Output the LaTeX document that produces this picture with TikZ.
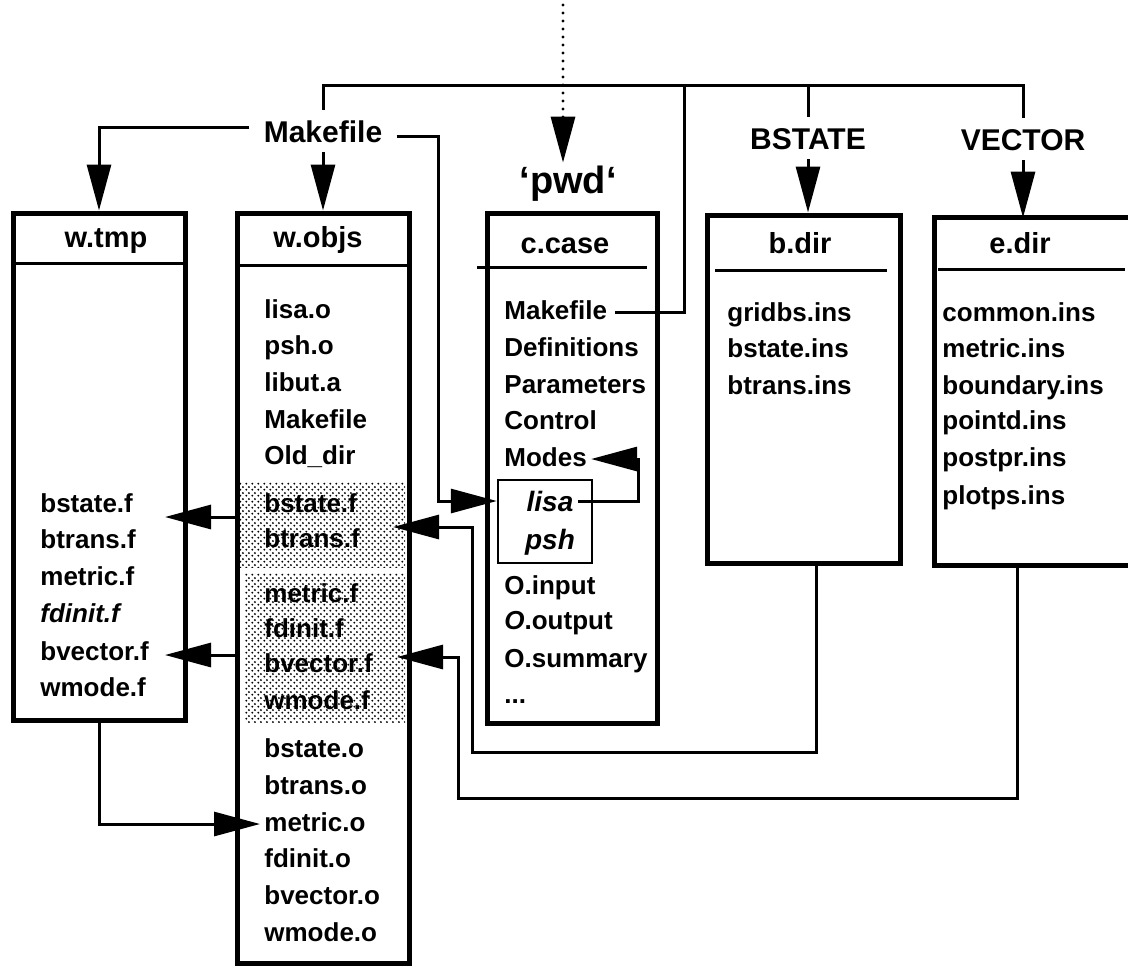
\documentclass[tikz,border=0pt]{standalone}
\usepackage{fontspec}
\setmainfont{Liberation Sans}
\usetikzlibrary{arrows.meta,patterns}
\pgfdeclarepatternformonly{stipple}{\pgfqpoint{-0.7pt}{-0.7pt}}{\pgfqpoint{2.1pt}{2.1pt}}{\pgfqpoint{2.8pt}{2.8pt}}{%
  \pgfpathcircle{\pgfqpoint{0pt}{0pt}}{0.55pt}%
  \pgfpathcircle{\pgfqpoint{1.4pt}{1.4pt}}{0.55pt}%
  \pgfusepath{fill}}
\begin{document}
\begin{tikzpicture}[x=0.5pt,y=-0.5pt,
  conn/.style={line width=1.5pt},
  arr/.style={conn,-{Triangle[length=23pt,width=12pt]}},
  boxline/.style={line width=2.5pt},
  boxst/.style={draw,line width=2.5pt,inner sep=0pt},
  sepline/.style={line width=1.5pt},
  item/.style={anchor=base west,font=\fontsize{13}{15}\selectfont\bfseries,text height=9.5pt,text depth=2.5pt,inner ysep=0pt,inner xsep=2pt},
  hdr/.style={anchor=base,font=\fontsize{14.5}{17}\selectfont\bfseries,inner sep=0pt},
  lbl/.style={anchor=base,font=\fontsize{15}{18}\selectfont\bfseries,text height=11pt,text depth=0pt,inner xsep=7pt,inner ysep=5pt},
  lp/.style={anchor=base,font=\fontsize{14}{16}\selectfont\bfseries\itshape,text height=10pt,text depth=0pt,inner xsep=2pt,inner ysep=0pt}
]
\useasboundingbox (0,0) rectangle (1128,965);

% boxes
\node[boxst,minimum width=86pt,minimum height=253.5pt] (wtmp) at (99,466.5) {};
\node[boxst,minimum width=86pt,minimum height=375pt] (wobjs) at (323,588) {};
\node[boxst,minimum width=85pt,minimum height=255pt] (ccase) at (572,468) {};
\node[boxst,minimum width=96.5pt,minimum height=174pt] (bdir) at (803.5,389) {};
\node[inner sep=0pt,minimum width=96.5pt,minimum height=173.5pt] (edir) at (1031.5,391.5) {};
\draw[boxline] (edir.north east) -- (edir.north west) -- (edir.south west) -- (edir.south east);

% separators
\draw[sepline] (13,263) -- (185,263);
\draw[sepline] (237,265) -- (409,265);
\draw[sepline] (477,267) -- (647,267);
\draw[sepline] (715,270) -- (887,270);
\draw[sepline] (938,269) -- (1125,269);

% stippled regions
\fill[pattern=stipple,pattern color=black] (240,482) rectangle (405,567);
\fill[pattern=stipple,pattern color=black] (245,573) rectangle (405,722);

% lisa/psh box
\node[draw,line width=1.2pt,inner sep=0pt,minimum width=47pt,minimum height=41.5pt] (lisabox) at (545,521.5) {};

% headers
\node[hdr] (hwtmp) at (106,247) {w.tmp};
\node[hdr] (hwobjs) at (318,247) {w.objs};
\node[hdr] (hccase) at (565,253) {c.case};
\node[hdr] (hbdir) at (800,253) {b.dir};
\node[hdr] (hedir) at (1020,253) {e.dir};

% top labels
\node[lbl] (mk) at (323,142) {Makefile};
\node[lbl] (bst) at (808,149) {BSTATE};
\node[lbl] (vec) at (1023,150) {VECTOR};
\node[anchor=base,font=\fontsize{19}{22}\selectfont\bfseries,text height=14pt,inner sep=1pt] (pwd) at (568,193) {‘pwd‘};

% w.tmp items
\node[item] (tbstatef) at (36,512) {bstate.f};
\node[item] (tbtransf) at (36,548) {btrans.f};
\node[item] (tmetricf) at (36,585) {metric.f};
\node[item] (tfdinitf) at (36,622) {\itshape fdinit.f};
\node[item] (tbvectorf) at (36,660) {bvector.f};
\node[item] (twmodef) at (36,696) {wmode.f};

% w.objs items
\node[item] (lisao) at (260,318) {lisa.o};
\node[item] (psho) at (260,354) {psh.o};
\node[item] (libuta) at (260,391) {libut.a};
\node[item] (omake) at (260,428) {Makefile};
\node[item] (olddir) at (260,464) {Old\_dir};
\node[item] (obstatef) at (260,512) {bstate.f};
\node[item] (obtransf) at (260,547) {btrans.f};
\node[item] (ometricf) at (260,602) {metric.f};
\node[item] (ofdinitf) at (260,637) {fdinit.f};
\node[item] (obvectorf) at (260,672) {bvector.f};
\node[item] (owmodef) at (260,709) {wmode.f};
\node[item] (bstateo) at (260,757) {bstate.o};
\node[item] (btranso) at (260,794) {btrans.o};
\node[item] (metrico) at (260,831) {metric.o};
\node[item] (fdinito) at (260,867) {fdinit.o};
\node[item] (bvectoro) at (260,904) {bvector.o};
\node[item] (wmodeo) at (260,941) {wmode.o};

% c.case items
\node[item] (cmk) at (500,319) {Makefile};
\node[item] (cdef) at (500,356) {Definitions};
\node[item] (cpar) at (500,393) {Parameters};
\node[item] (cctl) at (500,429) {Control};
\node[item] (modes) at (500,466) {Modes};
\node[lp] (lisa) at (550,511) {lisa};
\node[lp] (psh) at (550,549) {psh};
\node[item] (cin) at (500,594) {O.input};
\node[item] (cout) at (500,629) {{\itshape O}.output};
\node[item] (csum) at (500,667) {O.summary};
\node[item] (cdots) at (500,703) {...};

% b.dir items
\node[item] (gridbs) at (723,321) {gridbs.ins};
\node[item] (bstatei) at (723,357) {bstate.ins};
\node[item] (btransi) at (723,394) {btrans.ins};

% e.dir items
\node[item] (common) at (938,321) {common.ins};
\node[item] (metrici) at (938,357) {metric.ins};
\node[item] (boundary) at (938,394) {boundary.ins};
\node[item] (pointd) at (938,429) {pointd.ins};
\node[item] (postpr) at (938,466) {postpr.ins};
\node[item] (plotps) at (938,504) {plotps.ins};

% coordinates
\coordinate (tl) at (0,85);
\coordinate (j1) at (684,85);
\coordinate (j2) at (438,0);
\coordinate (j3) at (638,0);
\coordinate (j4) at (472,752);
\coordinate (tb) at (393,527);
\coordinate (j5) at (458,798);
\coordinate (tv) at (397,657);
\coordinate (wa1) at (165,517);
\coordinate (wa2) at (165,655);
\coordinate (dtop) at (563,5);

% connectors
\draw[line width=1.6pt,dash pattern=on 0pt off 4pt,line cap=round,-{Triangle[length=23pt,width=12pt]}] (dtop) -- (dtop |- pwd.north);
\draw[conn] (mk.north) -- (mk.north |- tl) -- (vec.north |- tl) -- (vec.north);
\draw[conn] (bst.north |- tl) -- (bst.north);
\draw[conn] ([xshift=2pt]cmk.east) -- (cmk.east -| j1) -- (j1);
\draw[arr] ([yshift=2pt]mk.west) -| (wtmp.north);
\draw[arr] (mk.south) -- (wobjs.north);
\draw[arr] ([yshift=-2.5pt]mk.east) -| (j2 |- lisa) -- (lisabox.west |- lisa);
\draw[arr] (lisa.east) -| (j3 |- modes) -- (modes.east);
\draw[arr] (bst.south) -- (bst.south |- bdir.north);
\draw[arr] (vec.south) -- (vec.south |- edir.north);
\draw[arr] ([xshift=6.25pt]bdir.south) |- (j4) |- (tb);
\draw[arr] ([xshift=-7pt]edir.south) |- (j5) |- (tv);
\draw[arr] (wobjs.west |- wa1) -- (wa1);
\draw[arr] (wobjs.west |- wa2) -- (wa2);
\draw[arr] (wtmp.south) |- (metrico.west);
\end{tikzpicture}
\end{document}
